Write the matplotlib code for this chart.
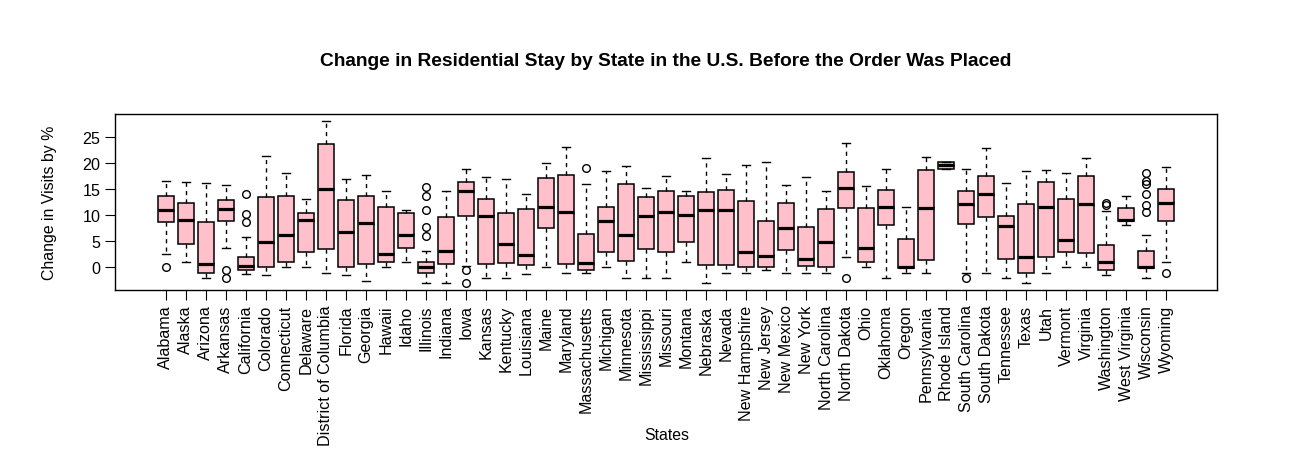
import numpy as np
import matplotlib.pyplot as plt

plt.rcParams['font.family'] = ['Liberation Sans', 'DejaVu Sans']

states = ['Alabama', 'Alaska', 'Arizona', 'Arkansas', 'California', 'Colorado',
          'Connecticut', 'Delaware', 'District of Columbia', 'Florida', 'Georgia',
          'Hawaii', 'Idaho', 'Illinois', 'Indiana', 'Iowa', 'Kansas', 'Kentucky',
          'Louisiana', 'Maine', 'Maryland', 'Massachusetts', 'Michigan', 'Minnesota',
          'Mississippi', 'Missouri', 'Montana', 'Nebraska', 'Nevada', 'New Hampshire',
          'New Jersey', 'New Mexico', 'New York', 'North Carolina', 'North Dakota',
          'Ohio', 'Oklahoma', 'Oregon', 'Pennsylvania', 'Rhode Island',
          'South Carolina', 'South Dakota', 'Tennessee', 'Texas', 'Utah', 'Vermont',
          'Virginia', 'Washington', 'West Virginia', 'Wisconsin', 'Wyoming']

# five number summaries
whislo = [2.5, 0.96, -2.1, 3.65, -1.3, -1.5, 0.0, 0.0, -1.1, -1.5, -2.7, 0.0, 0.96,
          -3.0, -3.0, 0.2, -2.1, -2.1, -1.35, 0.0, -1.15, -1.15, 0.0, -2.1, -2.1,
          -2.1, 0.96, -3.1, -1.15, -1.15, -0.58, -1.15, -1.15, -1.15, 1.9, 0.0,
          -2.1, -1.15, -1.15, 19.0, -1.15, -1.15, -2.1, -3.1, -1.15, 0.0, 0.0,
          -1.5, 8.1, -2.1, 0.96]
q1 = [8.65, 4.4, -1.15, 8.85, -0.58, 0.0, 0.96, 2.9, 3.46, 0.0, 0.6, 0.96, 3.65,
      -1.15, 0.6, 9.8, 0.6, 0.77, 0.4, 7.5, 0.6, -0.58, 2.9, 1.15, 3.46, 2.9, 4.8,
      0.4, 0.4, 0.0, 0.0, 3.3, 0.2, 0.0, 11.5, 0.96, 8.1, -0.2, 1.35, 19.0, 8.3,
      9.6, 1.54, -1.15, 1.9, 2.9, 2.7, -0.58, 8.85, -0.2, 8.85]
med = [11.0, 9.1, 0.6, 11.2, 0.3, 4.8, 6.15, 9.2, 15.0, 6.7, 8.5, 2.5, 6.15, 0.0,
       3.1, 14.6, 9.8, 4.4, 2.3, 11.7, 10.6, 0.77, 8.85, 6.15, 9.8, 10.6, 10.0,
       11.0, 11.0, 2.9, 2.1, 7.5, 1.54, 4.8, 15.2, 3.65, 11.7, 0.0, 11.5, 19.6,
       12.1, 14.2, 7.9, 1.9, 11.7, 5.2, 12.1, 0.96, 9.2, 0.0, 12.3]
q3 = [13.8, 12.3, 8.65, 12.9, 1.9, 13.5, 13.8, 10.5, 23.65, 12.9, 13.8, 11.7, 10.4,
      0.96, 9.6, 16.5, 13.1, 10.4, 11.15, 17.1, 17.7, 6.35, 11.7, 16.0, 13.5, 14.6,
      13.65, 14.4, 14.8, 12.7, 8.85, 12.3, 7.7, 11.15, 18.3, 11.35, 14.8, 5.4,
      18.65, 20.2, 14.6, 17.5, 9.8, 12.1, 16.5, 13.1, 17.5, 4.2, 11.35, 3.1, 15.0]
whishi = [16.7, 16.5, 16.3, 15.9, 5.8, 21.5, 18.1, 13.1, 28.2, 16.9, 17.8, 14.6,
          11.0, 3.2, 14.6, 19.0, 17.4, 17.05, 14.2, 20.0, 23.2, 16.1, 18.5, 19.55,
          15.2, 17.6, 14.6, 21.0, 17.9, 19.6, 20.2, 15.8, 17.3, 14.6, 24.0, 15.6,
          19.0, 11.7, 21.2, 20.2, 19.0, 22.9, 16.3, 18.5, 18.8, 18.1, 21.0, 10.8,
          13.65, 6.15, 19.4]
outliers = {
    'Alabama': [0.1],
    'Arkansas': [-0.58, -2.1],
    'California': [14.2, 10.2, 8.65],
    'Illinois': [15.4, 13.8, 11.0, 7.7, 6.0],
    'Iowa': [-0.6, -3.0],
    'Massachusetts': [19.2],
    'North Dakota': [-2.1],
    'South Carolina': [-2.1],
    'Washington': [12.3, 12.0],
    'Wisconsin': [18.1, 16.6, 16.0, 14.1, 11.9, 10.6],
    'Wyoming': [-1.15],
}

stats = []
for i, s in enumerate(states):
    stats.append(dict(label=s, whislo=whislo[i], q1=q1[i], med=med[i],
                      q3=q3[i], whishi=whishi[i], fliers=outliers.get(s, [])))

fig = plt.figure(figsize=(12.94, 4.64), dpi=100)
ax = fig.add_axes([0.0889, 0.3728, 0.8516, 0.3793])

pos = np.arange(1, len(states) + 1)
ax.bxp(stats, positions=pos, widths=0.8, patch_artist=True,
       boxprops=dict(facecolor='pink', edgecolor='black', linewidth=1.1),
       medianprops=dict(color='black', linewidth=2.3, solid_capstyle='butt'),
       whiskerprops=dict(color='black', linestyle=(0, (3, 3)), linewidth=1),
       capprops=dict(color='black', linewidth=1),
       capwidths=0.4,
       flierprops=dict(marker='o', markerfacecolor='none', markeredgecolor='black',
                       markersize=5.5, markeredgewidth=1))

ax.set_xlim(-1.54, 53.54)
ax.set_ylim(-4.37, 29.5)
ax.set_xticks(pos)
ax.set_xticklabels(states, rotation=90, fontsize=11.6)
ax.set_yticks([0, 5, 10, 15, 20, 25])
ax.tick_params(axis='y', labelsize=11.6, length=7)
ax.tick_params(axis='x', length=7)
for sp in ax.spines.values():
    sp.set_linewidth(1)

ax.set_ylabel('Change in Visits by %', fontsize=11.4, labelpad=18)
fig.text(0.5155, 0.062, 'States', ha='center', va='center', fontsize=11.4)
fig.text(0.5147, 0.868, 'Change in Residential Stay by State in the U.S. Before the Order Was Placed',
         ha='center', va='center', fontsize=13.8, fontweight='bold')

fig.savefig('out.png', dpi=100)
